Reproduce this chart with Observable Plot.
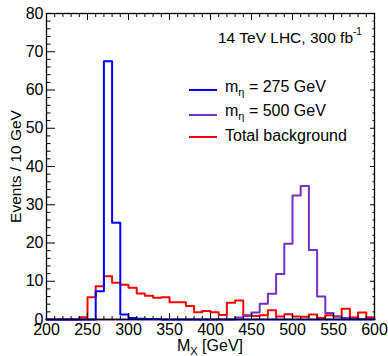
<!DOCTYPE html>
<html><head><meta charset="utf-8">
<script src="https://cdn.jsdelivr.net/npm/d3@7"></script>
<script src="https://cdn.jsdelivr.net/npm/@observablehq/plot@0.6"></script>
<style>
body{margin:0;background:#fff;font-family:"Liberation Sans",Arial,sans-serif;}
#wrap{position:relative;width:388px;height:356px;overflow:hidden;}
.ov{position:absolute;white-space:nowrap;color:#000;line-height:1;font-size:16px;}
.sub{position:relative;font-size:11px;top:4px;}
.sup{position:relative;font-size:10px;top:-8px;}
.ls{position:absolute;height:2px;width:28px;}
</style></head><body>
<div id="wrap"></div>
<script>
// bin lower edges (10 GeV bins)
const binLow = [200,210,220,230,240,250,260,270,280,290,300,310,320,330,340,350,360,370,380,390,
                400,410,420,430,440,450,460,470,480,490,500,510,520,530,540,550,560,570,580,590];
const binHigh = 600;
// m_eta = 275 GeV signal
const sig275 = [0,0,0,0,0,0,7.4,67.5,25.3,1.3,0.4,0.2,0.1,0.1,0,0,0,0,0,0,
                0,0,0,0,0,0,0,0,0,0,0,0,0,0,0,0,0,0,0,0];
// m_eta = 500 GeV signal
const sig500 = [0,0,0,0,0,0,0,0,0,0,0,0,0,0,0,0,0,0,0,0,
                0,0,0,0.5,0.9,1.8,4.1,6.7,11.9,19.8,32.4,34.9,18.2,6.0,1.7,0.8,0.4,0.2,0.1,0.1];
// total background
const background = [0,0,0,0,0.6,5.8,8.7,11.3,9.6,9.1,8.3,6.8,6.2,5.7,5.8,4.5,4.5,3.5,1.9,2.2,
                    1.9,1.2,4.4,5.0,1.1,0.9,1.1,2.4,0.8,1.4,0.8,0.7,1.3,0.4,1.1,0.8,2.8,0.5,1.8,0.6];
const seriesColors = {sig275:"#0000ff", sig500:"#7333c8", background:"#ff0000"};
const xMajor = [200,250,300,350,400,450,500,550,600];
const xMinor = [210,220,230,240,260,270,280,290,310,320,330,340,360,370,380,390,410,420,430,440,
                460,470,480,490,510,520,530,540,560,570,580,590];
const yMajor = [0,10,20,30,40,50,60,70,80];
const yMinor = [2,4,6,8,12,14,16,18,22,24,26,28,32,34,36,38,42,44,46,48,52,54,56,58,62,64,66,68,72,74,76,78];

function steps(vals){
  const pts = binLow.map((x,i)=>({x, y: vals[i]}));
  pts.push({x: binHigh, y: vals[vals.length-1]});
  return pts;
}

const plot = Plot.plot({
  width: 388, height: 356,
  marginLeft: 46, marginRight: 14, marginTop: 13, marginBottom: 37,
  x: {domain: [200, 600]},
  y: {domain: [0, 80]},
  style: {fontFamily: "'Liberation Sans', Arial, sans-serif", fontSize: "16px", background: "white", color: "black"},
  marks: [
    Plot.line(steps(background), {x:"x", y:"y", stroke: seriesColors.background, strokeWidth: 2, curve: "step-after"}),
    Plot.line(steps(sig500), {x:"x", y:"y", stroke: seriesColors.sig500, strokeWidth: 2, curve: "step-after"}),
    Plot.line(steps(sig275), {x:"x", y:"y", stroke: seriesColors.sig275, strokeWidth: 2, curve: "step-after"}),
    Plot.axisX(xMinor, {anchor: "bottom", tickSize: -3, text: null, label: null}),
    Plot.axisX(xMajor, {anchor: "bottom", tickSize: -6, text: null, label: null}),
    Plot.axisX(xMinor, {anchor: "top", tickSize: -3, text: null, label: null}),
    Plot.axisX(xMajor, {anchor: "top", tickSize: -6, text: null, label: null}),
    Plot.axisX(xMajor, {anchor: "bottom", tickSize: 0, tickPadding: 4.5, fontSize: 16, label: null}),
    Plot.axisY(yMinor, {anchor: "left", tickSize: -4.5, text: null, label: null}),
    Plot.axisY(yMajor, {anchor: "left", tickSize: -9, text: null, label: null}),
    Plot.axisY(yMinor, {anchor: "right", tickSize: -2.5, text: null, label: null}),
    Plot.axisY(yMajor, {anchor: "right", tickSize: -5, text: null, label: null}),
    Plot.axisY(yMajor, {anchor: "left", tickSize: 0, tickPadding: 3, fontSize: 16, label: null}),
    Plot.text(["Events / 10 GeV"], {frameAnchor: "left", rotate: -90, dx: -30, fontSize: 15.5, textAnchor: "middle", lineAnchor: "middle"}),
    Plot.frame({stroke: "black", strokeWidth: 1.3})
  ]
});
const wrap = document.getElementById("wrap");
wrap.appendChild(plot);

function ov(html, left, top, size){
  const d = document.createElement("div");
  d.className = "ov";
  d.style.left = left + "px"; d.style.top = top + "px";
  if (size) d.style.fontSize = size + "px";
  d.innerHTML = html;
  wrap.appendChild(d);
}
function ls(color, left, top){
  const d = document.createElement("div");
  d.className = "ls"; d.style.background = color;
  d.style.left = left + "px"; d.style.top = top + "px";
  wrap.appendChild(d);
}
// annotation
ov('14 TeV LHC, 300 fb<span class="sup">-1</span>', 218, 29.9, 15.5);
// legend
ls(seriesColors.sig275, 189, 89);
ls(seriesColors.sig500, 189, 113.5);
ls(seriesColors.background, 189, 136);
ov('m<span class="sub">η</span> = 275 GeV', 225, 78.5, 16);
ov('m<span class="sub">η</span> = 500 GeV', 225, 103.2, 16);
ov('Total background', 225, 128.2, 16);
// x axis title
ov('M<span class="sub">X</span> [GeV]', 177, 337.5, 16);
</script>
</body></html>
